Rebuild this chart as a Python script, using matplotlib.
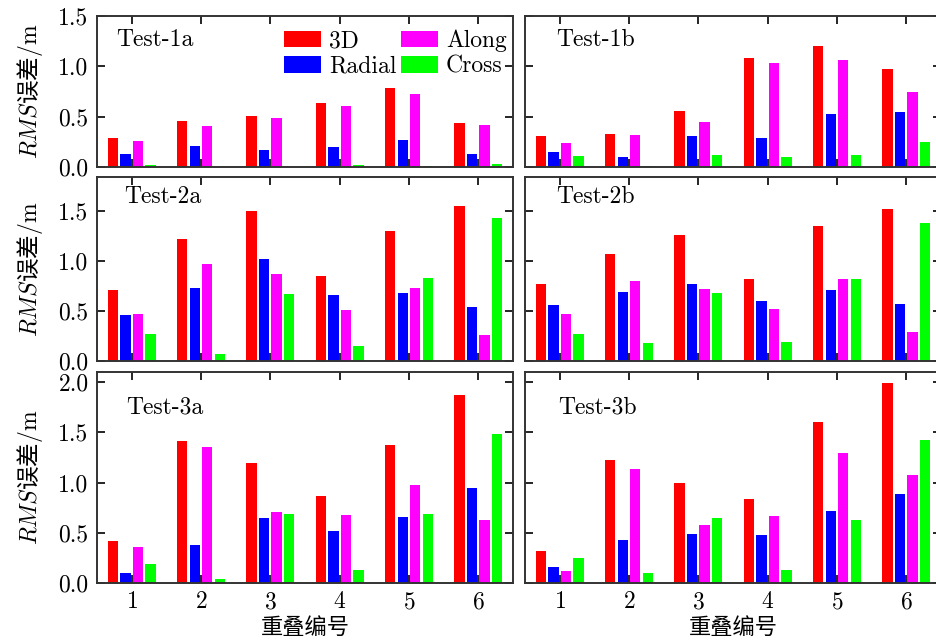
import numpy as np
import matplotlib
matplotlib.use("Agg")
import matplotlib.pyplot as plt
from matplotlib.ticker import FormatStrFormatter

plt.rcParams['font.family'] = ['cmr10', 'Noto Sans CJK SC', 'DejaVu Sans']
plt.rcParams['mathtext.fontset'] = 'cm'
plt.rcParams['axes.formatter.use_mathtext'] = True
plt.rcParams['axes.unicode_minus'] = False

# overlap index
groups = [1, 2, 3, 4, 5, 6]
series = ["3D", "Radial", "Along", "Cross"]
colors = ["#ff0000", "#0000ff", "#ff00ff", "#00ff00"]

# RMS errors (m): 3D, Radial, Along, Cross for each test
test_1a_3d = [0.29, 0.46, 0.51, 0.64, 0.78, 0.44]
test_1a_radial = [0.13, 0.21, 0.17, 0.20, 0.27, 0.13]
test_1a_along = [0.26, 0.41, 0.49, 0.61, 0.73, 0.42]
test_1a_cross = [0.02, 0.003, 0.003, 0.02, 0.01, 0.03]

test_1b_3d = [0.31, 0.33, 0.56, 1.08, 1.20, 0.97]
test_1b_radial = [0.15, 0.10, 0.31, 0.29, 0.53, 0.55]
test_1b_along = [0.24, 0.32, 0.45, 1.03, 1.06, 0.75]
test_1b_cross = [0.11, 0.01, 0.12, 0.10, 0.12, 0.25]

test_2a_3d = [0.71, 1.22, 1.50, 0.85, 1.30, 1.55]
test_2a_radial = [0.46, 0.73, 1.02, 0.66, 0.68, 0.54]
test_2a_along = [0.47, 0.97, 0.87, 0.51, 0.73, 0.26]
test_2a_cross = [0.27, 0.07, 0.67, 0.15, 0.83, 1.43]

test_2b_3d = [0.77, 1.07, 1.26, 0.82, 1.35, 1.52]
test_2b_radial = [0.56, 0.69, 0.77, 0.60, 0.71, 0.57]
test_2b_along = [0.47, 0.80, 0.72, 0.52, 0.82, 0.29]
test_2b_cross = [0.27, 0.18, 0.68, 0.19, 0.82, 1.38]

test_3a_3d = [0.42, 1.41, 1.19, 0.87, 1.37, 1.87]
test_3a_radial = [0.10, 0.38, 0.65, 0.52, 0.66, 0.95]
test_3a_along = [0.36, 1.35, 0.71, 0.68, 0.98, 0.63]
test_3a_cross = [0.19, 0.04, 0.69, 0.13, 0.69, 1.48]

test_3b_3d = [0.32, 1.22, 1.00, 0.84, 1.60, 1.99]
test_3b_radial = [0.16, 0.43, 0.49, 0.48, 0.72, 0.89]
test_3b_along = [0.12, 1.13, 0.58, 0.67, 1.29, 1.07]
test_3b_cross = [0.25, 0.10, 0.65, 0.13, 0.63, 1.42]

panels = [
    ("Test-1a", [test_1a_3d, test_1a_radial, test_1a_along, test_1a_cross]),
    ("Test-1b", [test_1b_3d, test_1b_radial, test_1b_along, test_1b_cross]),
    ("Test-2a", [test_2a_3d, test_2a_radial, test_2a_along, test_2a_cross]),
    ("Test-2b", [test_2b_3d, test_2b_radial, test_2b_along, test_2b_cross]),
    ("Test-3a", [test_3a_3d, test_3a_radial, test_3a_along, test_3a_cross]),
    ("Test-3b", [test_3b_3d, test_3b_radial, test_3b_along, test_3b_cross]),
]

W, H = 936, 644
fig = plt.figure(figsize=(W / 100, H / 100), dpi=100)

col_x = [97, 525]
ax_w = 416
rows_px = [(16, 167), (177, 361), (372, 583)]
row_ylim = [1.5, 1.84, 2.1]
row_ticks = [[0, 0.5, 1.0, 1.5], [0, 0.5, 1.0, 1.5], [0, 0.5, 1.0, 1.5, 2.0]]
label_pos = [(0.045, 0.84), (0.075, 0.84), (0.065, 0.89), (0.075, 0.89),
             (0.07, 0.834), (0.08, 0.834)]

x = np.array(groups)
bw = 0.15
step = 0.18
fs = 17

axes = []
for i, (name, vals) in enumerate(panels):
    r, c = divmod(i, 2)
    top, bot = rows_px[r]
    ax = fig.add_axes([col_x[c] / W, (H - bot) / H, ax_w / W, (bot - top) / H])
    axes.append(ax)
    bars = []
    for k in range(4):
        b = ax.bar(x + (k - 1.5) * step, vals[k], width=bw, color=colors[k],
                   linewidth=0, label=series[k])
        bars.append(b)
    ax.set_xlim(0.5, 6.5)
    ax.set_ylim(0, row_ylim[r])
    ax.set_xticks(groups)
    ax.set_yticks(row_ticks[r])
    ax.yaxis.set_major_formatter(FormatStrFormatter('%.1f'))
    ax.tick_params(direction='in', top=True, right=True, length=6, width=1.2,
                   labelsize=fs, pad=6)
    for s in ax.spines.values():
        s.set_linewidth(1.4)
        s.set_color('#333333')
    if r < 2:
        ax.tick_params(labelbottom=False)
    if c == 1:
        ax.tick_params(labelleft=False)
    else:
        ax.set_ylabel(r'$RMS$误差$/\mathrm{m}$', family='Noto Sans CJK SC',
                      fontsize=fs, labelpad=10)
    if r == 2:
        ax.set_xlabel('重叠编号', family='Noto Sans CJK SC', fontsize=16,
                      labelpad=2)
    ax.text(label_pos[i][0], label_pos[i][1], name, transform=ax.transAxes,
            fontsize=fs, va='center', ha='left')
    if i == 0:
        ax.legend(handles=bars, loc='upper left', bbox_to_anchor=(0.45, 0.91),
                  ncol=2, frameon=False, fontsize=fs, handlelength=1.55,
                  handleheight=0.7, handletextpad=0.35, columnspacing=0.2,
                  labelspacing=0.15, borderpad=0, borderaxespad=0)

fig.align_ylabels([axes[0], axes[2], axes[4]])
plt.savefig('out.png', dpi=100)
plt.close(fig)
